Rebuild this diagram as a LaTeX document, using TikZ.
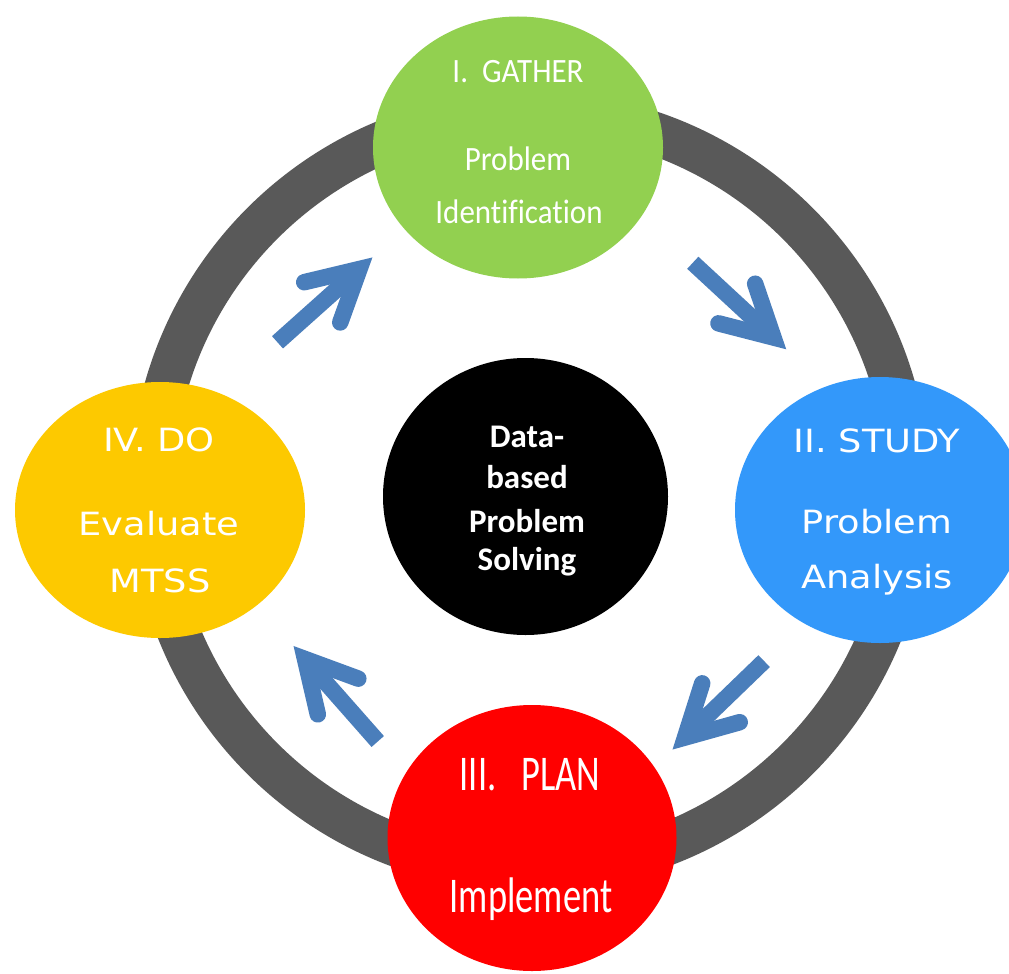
\documentclass[tikz,border=0pt]{standalone}
\usepackage{fontspec}
\usepackage{graphicx}
\setmainfont{Carlito}[Ligatures=NoCommon]
\newfontfamily\widefont{DejaVu Sans}
\usetikzlibrary{shapes.geometric}

\definecolor{ringgray}{HTML}{595959}
\definecolor{arrowblue}{HTML}{4A7EBB}
\definecolor{gathergreen}{HTML}{92D050}
\definecolor{studyblue}{HTML}{3398FA}
\definecolor{planred}{HTML}{FF0000}
\definecolor{doyellow}{HTML}{FDC900}

% One cycle arrow: thick shaft with an open chevron head, pointing along +x
\newcommand{\cyclearrow}[2]{%
  \begin{scope}[shift={#1}, rotate=#2]
    \draw[arrowshaft] (-110,0) -- (-6,0);
    \draw[arrowhead] (-50,27) -- (0,0) -- (-50,-27);
  \end{scope}}

\begin{document}
\begin{tikzpicture}[x=1pt, y=-1pt,
  disc/.style={ellipse, inner sep=0pt, outer sep=0pt, draw=none},
  txt/.style={anchor=base, text=white, inner sep=0pt, outer sep=0pt},
  narrowtxt/.style={txt, font=\fontsize{31}{31}\selectfont},
  talltxt/.style={txt, font=\fontsize{50}{50}\selectfont},
  widetxt/.style={txt, font=\widefont\fontsize{32}{32}\selectfont},
  centertxt/.style={txt, font=\bfseries\fontsize{33}{33}\selectfont},
  arrowshaft/.style={draw=arrowblue, line width=16.5pt, line cap=butt},
  arrowhead/.style={draw=arrowblue, line width=16.5pt, line cap=round,
                    line join=miter, miter limit=10}]

\useasboundingbox[fill=white] (0,0) rectangle (1009,974);

% outer ring
\coordinate (hub) at (530,491);
\draw[ringgray, line width=43pt] (hub) circle[radius=378.5pt];

% arrows between the stages
\cyclearrow{(359.5,269)}{41.8}
\cyclearrow{(773.5,337.5)}{-42.8}
\cyclearrow{(685,737.5)}{-136}
\cyclearrow{(305,659)}{131.4}

% stage discs
\node[disc, fill=gathergreen, minimum width=290pt, minimum height=262pt] (gather) at (518,147.5) {};
\node[disc, fill=studyblue,   minimum width=290pt, minimum height=266pt] (study)  at (880,510) {};
\node[disc, fill=planred,     minimum width=289pt, minimum height=266pt] (plan)   at (532,838) {};
\node[disc, fill=doyellow,    minimum width=290pt, minimum height=256pt] (do)     at (160,510) {};
\node[disc, fill=black,       minimum width=285pt, minimum height=277pt] (core)   at (525.5,496.5) {};

% I. GATHER
\node[narrowtxt] (gatherA) at (518,82)  {\scalebox{1}[1.1]{I.\ \ GATHER}};
\node[narrowtxt] (gatherB) at (518,170) {\scalebox{1}[1.1]{Problem}};
\node[narrowtxt] (gatherC) at (519,223) {\scalebox{1}[1.1]{Identification}};

% II. STUDY
\node[widetxt] (studyA) at (877,452) {\scalebox{1.15}[1]{II. STUDY}};
\node[widetxt] (studyB) at (877,533) {\scalebox{1.15}[1]{Problem}};
\node[widetxt] (studyC) at (877,588) {\scalebox{1.15}[1]{Analysis}};

% III. PLAN
\node[talltxt] (planA) at (530,790) {\scalebox{0.73}[1]{III.\ \ \ PLAN}};
\node[talltxt] (planB) at (531,912) {\scalebox{0.73}[1]{Implement}};

% IV. DO
\node[widetxt] (doA) at (159,451) {\scalebox{1.15}[1]{IV. DO}};
\node[widetxt] (doB) at (159,535) {\scalebox{1.15}[1]{Evaluate}};
\node[widetxt] (doC) at (160,592) {\scalebox{1.15}[1]{MTSS}};

% centre
\node[centertxt] (coreA) at (527,447) {Data-};
\node[centertxt] (coreB) at (527,488) {based};
\node[centertxt] (coreC) at (527,532) {Problem};
\node[centertxt] (coreD) at (527,570) {Solving};

\end{tikzpicture}
\end{document}
